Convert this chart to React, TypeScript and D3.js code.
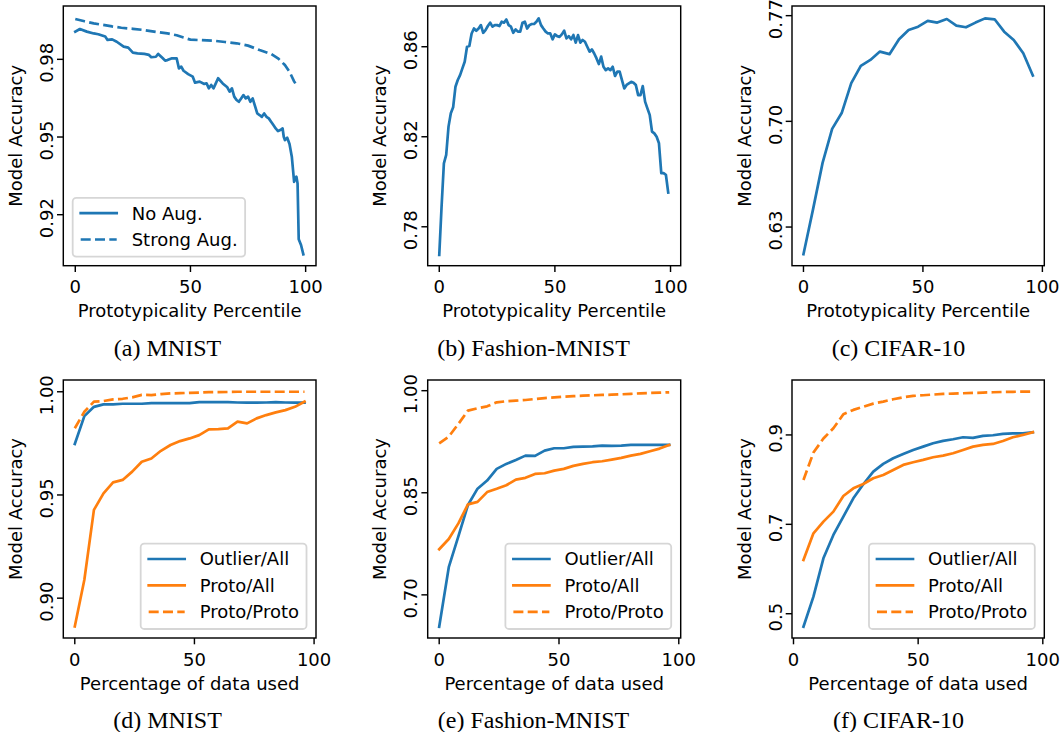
import React from 'react';
import * as d3 from 'd3';

type Pt = [number, number];

const BLUE = '#1f77b4';
const ORANGE = '#ff7f0e';
const FONT = "'DejaVu Sans', sans-serif";
const SERIF = "'Liberation Serif', 'Times New Roman', serif";
const FS = 18;

// ---------- data ----------
const MNIST_NO_AUG: Pt[] = [
  [0, 0.9907], [2, 0.9917], [5, 0.9907], [8, 0.99], [10, 0.9897], [13, 0.9888], [14, 0.9875], [16, 0.9877], [18, 0.9868], [21, 0.9849],
  [23, 0.9845], [25, 0.9826], [27, 0.9823], [30, 0.9821], [32, 0.9817], [33, 0.9808], [35, 0.981], [36, 0.9821], [38, 0.9804], [39, 0.9795],
  [40, 0.9797], [42, 0.9804], [44, 0.9804], [45, 0.9765], [46, 0.9772], [47, 0.9756], [49, 0.9743], [51, 0.9733], [52, 0.971], [54, 0.9714],
  [56, 0.9705], [57, 0.9707], [58, 0.9688], [59, 0.9701], [60, 0.9688], [61, 0.9707], [62, 0.9727], [64, 0.9707], [66, 0.9692], [67, 0.9675],
  [68, 0.9688], [69, 0.9656], [70, 0.9643], [71, 0.9636], [72, 0.9649], [73, 0.9662], [74, 0.9649], [75, 0.9656], [76, 0.9636], [77, 0.9649],
  [78, 0.962], [79, 0.9591], [80, 0.9585], [81, 0.9578], [82, 0.9591], [83, 0.9578], [84, 0.9572], [85, 0.9559], [86, 0.9546], [87, 0.9533],
  [88, 0.9523], [89, 0.9527], [90, 0.9533], [90.5, 0.9501], [91, 0.9488], [92, 0.9497], [93, 0.9473], [94, 0.9424], [95, 0.9327], [96, 0.9347],
  [96.5, 0.9321], [97, 0.9105], [98, 0.9083], [99, 0.9047],
];
const MNIST_STRONG_AUG: Pt[] = [
  [0, 0.9956], [4, 0.9947], [8, 0.9939], [12, 0.9933], [16, 0.9927], [20, 0.9922], [25, 0.9918], [30, 0.9913], [35, 0.9906], [40, 0.99],
  [44, 0.9893], [47, 0.9884], [50, 0.9876], [55, 0.9874], [60, 0.9872], [65, 0.9867], [70, 0.9862], [75, 0.9853], [80, 0.9836], [85, 0.9821],
  [88, 0.9804], [91, 0.9778], [93, 0.9752], [95, 0.9715], [96, 0.97],
];
const FASHION_PROTO: Pt[] = [
  [0, 0.7675], [1, 0.789], [2, 0.8082], [3, 0.8119], [4, 0.8245], [5, 0.8304], [6, 0.8331], [7, 0.8422], [8, 0.8452], [9, 0.8474],
  [10, 0.8504], [11, 0.8533], [12, 0.86], [13, 0.8603], [14, 0.8659], [15, 0.8681], [16, 0.8671], [17, 0.8681], [18, 0.8696], [19, 0.8662],
  [20, 0.8674], [21, 0.8692], [22, 0.8707], [23, 0.8689], [24, 0.8696], [25, 0.8696], [26, 0.8692], [27, 0.8711], [28, 0.8707], [29, 0.8721],
  [30, 0.8696], [31, 0.8689], [32, 0.8662], [33, 0.8677], [34, 0.8667], [35, 0.8667], [36, 0.8707], [37, 0.8711], [38, 0.8681], [39, 0.8696],
  [40, 0.8701], [41, 0.8701], [42, 0.8711], [43, 0.8726], [44, 0.8696], [45, 0.8681], [46, 0.8667], [47, 0.8659], [48, 0.8659], [49, 0.8633],
  [50, 0.8655], [51, 0.8647], [52, 0.8644], [53, 0.8655], [54, 0.8671], [55, 0.8637], [56, 0.8647], [57, 0.8633], [58, 0.8652], [59, 0.8618],
  [60, 0.8652], [61, 0.8618], [62, 0.863], [63, 0.8622], [64, 0.86], [65, 0.8578], [66, 0.8588], [67, 0.857], [68, 0.8548], [69, 0.8523],
  [70, 0.8556], [71, 0.8511], [72, 0.8496], [73, 0.8504], [74, 0.8496], [75, 0.8511], [76, 0.847], [77, 0.8489], [78, 0.8489], [79, 0.8452],
  [80, 0.8415], [81, 0.843], [82, 0.8437], [83, 0.8444], [84, 0.844], [85, 0.843], [86, 0.8385], [87, 0.8385], [88, 0.8425], [89, 0.8356],
  [90, 0.8326], [91, 0.8297], [92, 0.8223], [93, 0.8215], [94, 0.82], [95, 0.8171], [96, 0.8038], [97, 0.8038], [98, 0.8031], [99, 0.7952],
];
const CIFAR_PROTO: Pt[] = [
  [0, 0.612], [4, 0.6417], [8, 0.6725], [12, 0.695], [16, 0.7055], [20, 0.7253], [24, 0.7368], [28, 0.7407], [32, 0.7462], [36, 0.7445],
  [40, 0.7544], [44, 0.7605], [48, 0.7627], [52, 0.7665], [56, 0.7654], [60, 0.7678], [64, 0.7634], [68, 0.7623], [72, 0.7654], [76, 0.7682],
  [80, 0.7676], [84, 0.7594], [88, 0.7539], [92, 0.7451], [96, 0.7304],
];
const MNIST_OUTLIER_ALL: Pt[] = [
  [0, 0.9747], [4, 0.9882], [8, 0.9927], [12, 0.9939], [16, 0.9939], [20, 0.9942], [24, 0.9942], [28, 0.9942], [32, 0.9945], [36, 0.9945],
  [40, 0.9945], [44, 0.9945], [48, 0.9945], [52, 0.995], [56, 0.995], [60, 0.995], [64, 0.995], [68, 0.9948], [72, 0.9947], [76, 0.9947],
  [80, 0.9948], [84, 0.995], [88, 0.9948], [92, 0.9947], [96, 0.9947],
];
const MNIST_PROTO_ALL: Pt[] = [
  [0, 0.8863], [4, 0.9089], [8, 0.9428], [12, 0.9508], [16, 0.9561], [20, 0.9573], [24, 0.9613], [28, 0.9661], [32, 0.9677], [36, 0.9714],
  [40, 0.9742], [44, 0.9761], [48, 0.9774], [52, 0.979], [56, 0.9818], [60, 0.9819], [64, 0.9823], [68, 0.9855], [72, 0.9847], [76, 0.9871],
  [80, 0.9887], [84, 0.99], [88, 0.9911], [92, 0.9927], [96, 0.9952],
];
const MNIST_PROTO_PROTO: Pt[] = [
  [0, 0.9823], [4, 0.9903], [8, 0.9952], [12, 0.9955], [16, 0.9963], [20, 0.9966], [24, 0.9973], [28, 0.9985], [32, 0.9984], [36, 0.9989],
  [40, 0.9992], [44, 0.9993], [48, 0.9995], [52, 0.9996], [56, 0.9998], [60, 0.9998], [64, 0.9999], [68, 1.0], [72, 1.0], [76, 1.0],
  [80, 1.0], [84, 1.0], [88, 1.0], [92, 1.0], [96, 1.0],
];
const FASHION_OUTLIER_ALL: Pt[] = [
  [0, 0.6531], [4, 0.7406], [8, 0.786], [12, 0.832], [16, 0.856], [20, 0.868], [24, 0.8851], [28, 0.8924], [32, 0.8983], [36, 0.9046],
  [40, 0.9042], [44, 0.912], [48, 0.9154], [52, 0.9154], [56, 0.9174], [60, 0.9178], [64, 0.9183], [68, 0.9193], [72, 0.9188], [76, 0.9193],
  [80, 0.9203], [84, 0.9203], [88, 0.9203], [92, 0.9203], [96, 0.9203],
];
const FASHION_PROTO_ALL: Pt[] = [
  [0, 0.767], [4, 0.782], [8, 0.805], [12, 0.833], [16, 0.8366], [20, 0.851], [24, 0.8558], [28, 0.861], [32, 0.8694], [36, 0.8719],
  [40, 0.8777], [44, 0.8787], [48, 0.8826], [52, 0.8851], [56, 0.8895], [60, 0.8924], [64, 0.8949], [68, 0.8963], [72, 0.8988], [76, 0.9012],
  [80, 0.9046], [84, 0.9071], [88, 0.911], [92, 0.9149], [96, 0.9203],
];
const FASHION_PROTO_PROTO: Pt[] = [
  [0, 0.9227], [4, 0.9325], [8, 0.9511], [12, 0.9707], [16, 0.9741], [20, 0.977], [24, 0.9829], [28, 0.9844], [32, 0.9853], [36, 0.9863],
  [40, 0.9878], [44, 0.9892], [48, 0.9902], [52, 0.9912], [56, 0.992], [60, 0.9927], [64, 0.9932], [68, 0.9937], [72, 0.9941], [76, 0.9947],
  [80, 0.9954], [84, 0.9961], [88, 0.9966], [92, 0.9971], [96, 0.9976],
];
const CIFAR_OUTLIER_ALL: Pt[] = [
  [4, 0.471], [8, 0.5382], [12, 0.624], [16, 0.6762], [20, 0.7172], [24, 0.7583], [28, 0.7896], [32, 0.8179], [36, 0.8351], [40, 0.8478],
  [44, 0.8575], [48, 0.8664], [52, 0.8739], [56, 0.8813], [60, 0.8866], [64, 0.8903], [68, 0.8948], [72, 0.8933], [76, 0.8978], [80, 0.8993],
  [84, 0.9022], [88, 0.9037], [92, 0.9037], [96, 0.906],
];
const CIFAR_PROTO_ALL: Pt[] = [
  [4, 0.6203], [8, 0.6799], [12, 0.706], [16, 0.7284], [20, 0.7635], [24, 0.7806], [28, 0.7903], [32, 0.803], [36, 0.8105], [40, 0.8217],
  [44, 0.8329], [48, 0.8388], [52, 0.8441], [56, 0.85], [60, 0.8537], [64, 0.859], [68, 0.8664], [72, 0.8739], [76, 0.8776], [80, 0.8799],
  [84, 0.8866], [88, 0.8948], [92, 0.9], [96, 0.906],
];
const CIFAR_PROTO_PROTO: Pt[] = [
  [4, 0.7993], [8, 0.8605], [12, 0.892], [16, 0.915], [20, 0.9463], [24, 0.956], [28, 0.963], [32, 0.97], [36, 0.9746], [40, 0.9798],
  [44, 0.9843], [48, 0.9873], [52, 0.9888], [56, 0.9903], [60, 0.9918], [64, 0.9925], [68, 0.9933], [72, 0.994], [76, 0.9947], [80, 0.9955],
  [84, 0.9962], [88, 0.9965], [92, 0.9968], [96, 0.997],
];

const X_TICKS = [0, 50, 100];
const Y_TICKS_A = [0.92, 0.95, 0.98];
const Y_TICKS_B = [0.78, 0.82, 0.86];
const Y_TICKS_C = [0.63, 0.7, 0.77];
const Y_TICKS_D = [0.9, 0.95, 1.0];
const Y_TICKS_E = [0.7, 0.85, 1.0];
const Y_TICKS_F = [0.5, 0.7, 0.9];

const X_LABEL_TOP = 'Prototypicality Percentile';
const X_LABEL_BOTTOM = 'Percentage of data used';
const Y_LABEL = 'Model Accuracy';
const CAPTIONS = ['(a) MNIST', '(b) Fashion-MNIST', '(c) CIFAR-10', '(d) MNIST', '(e) Fashion-MNIST', '(f) CIFAR-10'];

// ---------- layout ----------
type Series = { data: Pt[]; color: string; dashed: boolean; label?: string };
type Panel = {
  left: number; right: number; top: number; bottom: number;
  xDomain: [number, number]; yDomain: [number, number];
  yTicks: number[]; yFmt: string; xLabel: string; caption: string; captionX: number;
  series: Series[]; legend?: 'lower left' | 'lower right';
};

const COLS = [
  { left: 63.3, right: 316, cap: 167.5 },
  { left: 427.7, right: 680.7, cap: 533.5 },
  { left: 792, right: 1044.3, cap: 898.5 },
];
const ROWS = [{ top: 6, bottom: 265.7 }, { top: 380, bottom: 638 }];

const PANELS: Panel[] = [
  {
    ...COLS[0], ...ROWS[0], captionX: COLS[0].cap, xDomain: [-5.2, 104.5], yDomain: [0.9003, 1.0006],
    yTicks: Y_TICKS_A, yFmt: '.2f', xLabel: X_LABEL_TOP, caption: CAPTIONS[0], legend: 'lower left',
    series: [
      { data: MNIST_NO_AUG, color: BLUE, dashed: false, label: 'No Aug.' },
      { data: MNIST_STRONG_AUG, color: BLUE, dashed: true, label: 'Strong Aug.' },
    ],
  },
  {
    ...COLS[1], ...ROWS[0], captionX: COLS[1].cap, xDomain: [-5.0, 104.4], yDomain: [0.7627, 0.8781],
    yTicks: Y_TICKS_B, yFmt: '.2f', xLabel: X_LABEL_TOP, caption: CAPTIONS[1],
    series: [{ data: FASHION_PROTO, color: BLUE, dashed: false }],
  },
  {
    ...COLS[2], ...ROWS[0], captionX: COLS[2].cap, xDomain: [-4.8, 100.8], yDomain: [0.6044, 0.7764],
    yTicks: Y_TICKS_C, yFmt: '.2f', xLabel: X_LABEL_TOP, caption: CAPTIONS[2],
    series: [{ data: CIFAR_PROTO, color: BLUE, dashed: false }],
  },
  {
    ...COLS[0], ...ROWS[1], captionX: COLS[0].cap, xDomain: [-4.8, 100.8], yDomain: [0.8807, 1.0057],
    yTicks: Y_TICKS_D, yFmt: '.2f', xLabel: X_LABEL_BOTTOM, caption: CAPTIONS[3], legend: 'lower right',
    series: [
      { data: MNIST_OUTLIER_ALL, color: BLUE, dashed: false, label: 'Outlier/All' },
      { data: MNIST_PROTO_ALL, color: ORANGE, dashed: false, label: 'Proto/All' },
      { data: MNIST_PROTO_PROTO, color: ORANGE, dashed: true, label: 'Proto/Proto' },
    ],
  },
  {
    ...COLS[1], ...ROWS[1], captionX: COLS[1].cap, xDomain: [-4.8, 100.8], yDomain: [0.6366, 1.0157],
    yTicks: Y_TICKS_E, yFmt: '.2f', xLabel: X_LABEL_BOTTOM, caption: CAPTIONS[4], legend: 'lower right',
    series: [
      { data: FASHION_OUTLIER_ALL, color: BLUE, dashed: false, label: 'Outlier/All' },
      { data: FASHION_PROTO_ALL, color: ORANGE, dashed: false, label: 'Proto/All' },
      { data: FASHION_PROTO_PROTO, color: ORANGE, dashed: true, label: 'Proto/Proto' },
    ],
  },
  {
    ...COLS[2], ...ROWS[1], captionX: COLS[2].cap, xDomain: [-0.6, 100.6], yDomain: [0.4457, 1.0229],
    yTicks: Y_TICKS_F, yFmt: '.1f', xLabel: X_LABEL_BOTTOM, caption: CAPTIONS[5], legend: 'lower right',
    series: [
      { data: CIFAR_OUTLIER_ALL, color: BLUE, dashed: false, label: 'Outlier/All' },
      { data: CIFAR_PROTO_ALL, color: ORANGE, dashed: false, label: 'Proto/All' },
      { data: CIFAR_PROTO_PROTO, color: ORANGE, dashed: true, label: 'Proto/Proto' },
    ],
  },
];

const LW = 2.7;
const SPINE = 1.44;
const TICK = 6.3;
const DASH = '10 4.3';
const YTICK_SHIFT = 3.5;

let ctx: CanvasRenderingContext2D | null = null;
function textWidth(s: string): number {
  if (!ctx) {
    const c = document.createElement('canvas');
    ctx = c.getContext('2d');
  }
  if (!ctx) return s.length * FS * 0.6;
  ctx.font = `${FS}px 'DejaVu Sans'`;
  return ctx.measureText(s).width;
}

function Legend({ p }: { p: Panel }) {
  const items = p.series.filter((s) => s.label);
  const maxW = Math.max(...items.map((s) => textWidth(s.label as string)));
  const w = 59 + maxW + 7.5;
  const rowGap = 26.4;
  const h = 15.3 + (items.length - 1) * rowGap + 17.2;
  const bx = p.legend === 'lower left' ? p.left + 9.4 : p.right - 9.5 - w;
  const by = p.bottom - 9 - h;
  return (
    <g>
      <rect x={bx} y={by} width={w} height={h} rx={3.6} ry={3.6}
        fill="#ffffff" fillOpacity={0.8} stroke="#cccccc" strokeOpacity={0.8} strokeWidth={1.8} />
      {items.map((s, i) => {
        const cy = by + 15.3 + i * rowGap;
        return (
          <g key={i}>
            <line x1={bx + 8} x2={bx + 44} y1={cy} y2={cy} stroke={s.color} strokeWidth={LW}
              strokeDasharray={s.dashed ? DASH : undefined} strokeLinecap={s.dashed ? 'butt' : 'square'} />
            <text x={bx + 59} y={cy} dy="0.36em" fontFamily={FONT} fontSize={FS} fill="#000">{s.label}</text>
          </g>
        );
      })}
    </g>
  );
}

function PanelView({ p }: { p: Panel }) {
  const x = d3.scaleLinear().domain(p.xDomain).range([p.left, p.right]);
  const y = d3.scaleLinear().domain(p.yDomain).range([p.bottom, p.top]);
  const line = d3.line<Pt>().x((d) => x(d[0])).y((d) => y(d[1]));
  const fmt = d3.format(p.yFmt);
  const midY = (p.top + p.bottom) / 2;
  const id = `clip-${Math.round(p.left)}-${Math.round(p.top)}`;
  return (
    <g>
      <defs>
        <clipPath id={id}>
          <rect x={p.left} y={p.top} width={p.right - p.left} height={p.bottom - p.top} />
        </clipPath>
      </defs>
      <g clipPath={`url(#${id})`}>
        {p.series.map((s, i) => (
          <path key={i} d={line(s.data) || ''} fill="none" stroke={s.color} strokeWidth={LW}
            strokeDasharray={s.dashed ? DASH : undefined}
            strokeLinecap={s.dashed ? 'butt' : 'square'} strokeLinejoin="round" />
        ))}
      </g>
      <rect x={p.left} y={p.top} width={p.right - p.left} height={p.bottom - p.top}
        fill="none" stroke="#000" strokeWidth={SPINE} />
      {X_TICKS.map((t) => (
        <g key={`x${t}`}>
          <line x1={x(t)} x2={x(t)} y1={p.bottom} y2={p.bottom + TICK} stroke="#000" strokeWidth={SPINE} />
          <text x={x(t)} y={p.bottom + 27.5} textAnchor="middle" fontFamily={FONT} fontSize={FS} fill="#000">{t}</text>
        </g>
      ))}
      {p.yTicks.map((t) => (
        <g key={`y${t}`}>
          <line x1={p.left - TICK} x2={p.left} y1={y(t)} y2={y(t)} stroke="#000" strokeWidth={SPINE} />
          <text transform={`translate(${p.left - 10.5},${y(t) + YTICK_SHIFT}) rotate(-90)`} textAnchor="middle"
            fontFamily={FONT} fontSize={FS} fill="#000">{fmt(t)}</text>
        </g>
      ))}
      <text x={(p.left + p.right) / 2} y={p.bottom + 51.6} textAnchor="middle" fontFamily={FONT} fontSize={FS} fill="#000">
        {p.xLabel}
      </text>
      <text transform={`translate(${p.left - 41.3},${midY}) rotate(-90)`} textAnchor="middle"
        fontFamily={FONT} fontSize={FS} fill="#000">{Y_LABEL}</text>
      {p.legend && <Legend p={p} />}
      <text x={p.captionX} y={p.bottom + 90} textAnchor="middle" fontFamily={SERIF} fontSize={24} fill="#000">
        {p.caption}
      </text>
    </g>
  );
}

export default function App() {
  return (
    <svg width={1062} height={732} viewBox="0 0 1062 732"
      style={{ position: 'absolute', left: 0, top: 0, background: '#fff' }}>
      <rect x={0} y={0} width={1062} height={732} fill="#fff" />
      {PANELS.map((p, i) => (
        <PanelView key={i} p={p} />
      ))}
    </svg>
  );
}
